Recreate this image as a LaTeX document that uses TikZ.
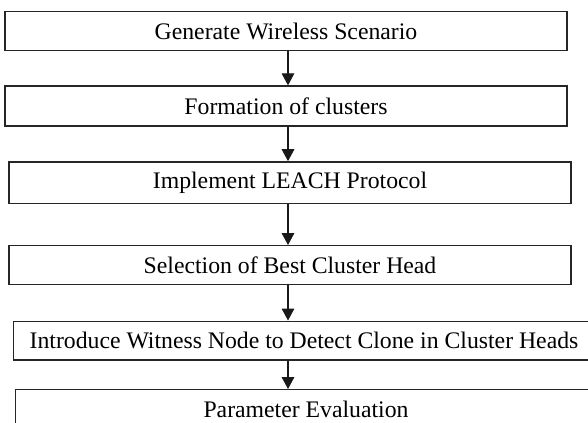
\documentclass[tikz,border=0pt]{standalone}
\usepackage{fontspec}
\setmainfont{Liberation Serif}
\usetikzlibrary{arrows.meta}

\begin{document}
\begin{tikzpicture}[x=0.75pt,y=-0.75pt,
  stepbox/.style={draw=black!85,line width=1pt,inner sep=0pt,
    font=\fontsize{17.8}{20}\selectfont,minimum height=29pt},
  flow/.style={-{Triangle[length=9pt,width=9.5pt]},line width=0.8pt,black!90}]
  \useasboundingbox (0,0) rectangle (588,422);
  \clip (0,0) rectangle (588,422);

  \node[stepbox,minimum width=421.5pt] (gen) at (286,31) {Generate Wireless Scenario};
  \node[stepbox,minimum width=421.5pt,minimum height=30pt] (form) at (286,106) {Formation of clusters};
  \node[stepbox,minimum width=421.5pt,minimum height=31pt] (leach) at (290,182.5) {Implement LEACH Protocol};
  \node[stepbox,minimum width=421.5pt] (best) at (290,265) {Selection of Best Cluster Head};
  \node[stepbox,minimum width=436pt] (witness) at (304,340.5) {Introduce Witness Node to Detect Clone in Cluster Heads};
  \node[stepbox,minimum width=436pt] (eval) at (306,409) {Parameter Evaluation};

  \coordinate (ax) at (288,0);
  \draw[flow] (gen.south -| ax) -- (form.north -| ax);
  \draw[flow] (form.south -| ax) -- (leach.north -| ax);
  \draw[flow] (leach.south -| ax) -- (best.north -| ax);
  \draw[flow] (best.south -| ax) -- (witness.north -| ax);
  \draw[flow] (witness.south -| ax) -- (eval.north -| ax);
\end{tikzpicture}
\end{document}
